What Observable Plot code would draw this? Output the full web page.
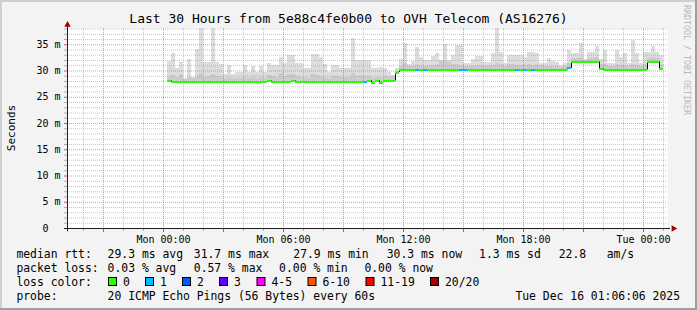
<!DOCTYPE html>
<html><head><meta charset="utf-8">
<script src="https://cdn.jsdelivr.net/npm/d3@7"></script>
<script src="https://cdn.jsdelivr.net/npm/@observablehq/plot@0.6"></script>
<style>
html,body{margin:0;padding:0;background:#f3f3f3;}
#chart{width:697px;height:310px;position:relative;overflow:hidden;background:#f3f3f3;}
#chart svg{display:block;}
#chart svg text{white-space:pre;}
</style></head><body><div id="chart"></div>
<script>
const titleText = "Last 30 Hours from 5e88c4fe0b00 to OVH Telecom (AS16276)";
const yTitle = "Seconds";
const watermark = "RRDTOOL / TOBI OETIKER";
const xTickHours = [0, 6, 12, 18, 24];
const xTickLabels = ["Mon 00:00", "Mon 06:00", "Mon 12:00", "Mon 18:00", "Tue 00:00"];
const yTickValues = [0, 5, 10, 15, 20, 25, 30, 35];
const yTickLabels = ["0\u00a0\u00a0", "5 m", "10 m", "15 m", "20 m", "25 m", "30 m", "35 m"];
// blocks of 12 minutes, first one starts Mon 00:12 (hours relative to Mon 00:00)
const firstBlockHour = 0.2;
const blockHours = 0.2;
const medianMs = [
  28.1,27.9,27.9,27.9,27.9,27.9,27.9,27.9,27.9,27.9,
  27.9,27.9,27.9,27.9,27.9,27.9,27.9,27.9,27.9,27.9,
  27.9,27.9,27.9,27.9,27.9,28.1,27.9,27.9,27.9,27.9,
  27.9,28.1,27.9,27.9,27.9,27.9,27.9,27.9,27.9,27.9,
  27.9,27.9,27.9,27.9,27.9,27.9,27.9,27.9,27.9,27.9,
  28.1,27.8,28.1,27.8,28.1,28.1,28.1,29.7,30.2,30.2,
  30.2,30.2,30.2,30.2,30.2,30.2,30.2,30.2,30.2,30.2,
  30.2,30.2,30.2,30.2,30.2,30.2,30.2,30.2,30.2,30.2,
  30.2,30.2,30.2,30.2,30.2,30.2,30.2,30.2,30.2,30.2,
  30.2,30.2,30.2,30.2,30.2,30.2,30.2,30.2,30.2,30.2,
  30.5,31.7,31.7,31.7,31.7,31.7,31.7,31.7,30.4,30.2,
  30.2,30.2,30.2,30.2,30.2,30.2,30.2,30.2,30.2,30.2,
  31.7,31.7,31.7,30.3
];
const smokeTopMs = [
  31.9,33.3,30.5,31.7,28.5,32.2,28.8,34.1,38.05,31.6,
  31.6,38.05,31.6,31.2,29.3,31.0,29.3,29.8,29.8,31.1,
  29.8,30.9,29.8,30.9,29.8,31.5,31.1,31.1,32.6,31.4,
  32.9,33.0,31.4,31.4,30.4,30.4,33.1,33.1,32.6,31.2,
  29.8,31.0,31.0,30.5,30.4,30.5,36.1,32.0,32.0,32.0,
  32.0,30.4,30.5,30.7,30.5,29.8,29.2,30.4,32.2,35.2,
  31.3,31.8,34.5,32.6,32.0,32.0,32.7,33.3,32.0,35.0,
  32.0,32.9,34.8,34.8,31.4,31.4,32.1,32.8,32.8,31.7,
  31.7,33.3,38.05,33.6,31.4,33.0,33.0,33.0,33.0,32.6,
  33.6,33.6,33.3,31.4,31.4,32.3,31.9,31.7,31.0,31.4,
  33.9,33.3,33.3,35.2,32.1,33.5,33.5,34.7,32.1,33.9,
  31.4,31.4,33.9,32.6,33.3,31.4,35.9,33.3,31.4,33.6,
  33.6,34.7,33.6,33.0
];
const smokeMidMs = [
  28.9,29.2,28.7,29.4,28.4,28.8,28.5,29.0,29.6,28.8,
  28.9,29.3,29.0,28.7,28.6,28.8,28.5,28.6,28.6,28.8,
  28.5,28.7,28.6,28.8,28.6,29.2,28.9,28.8,29.5,29.0,
  29.3,29.3,29.0,28.8,28.7,28.6,29.4,29.2,29.0,28.8,
  28.6,28.9,29.0,28.8,28.7,28.7,29.6,29.0,29.1,29.0,
  28.9,28.6,28.7,28.8,28.9,28.8,28.9,30.0,30.9,31.4,
  30.8,30.9,31.2,31.0,30.9,31.0,31.1,31.2,31.9,31.8,
  31.7,31.3,31.2,31.0,30.8,30.8,30.9,31.0,31.1,30.9,
  31.0,31.1,31.4,31.2,30.9,31.2,31.3,31.1,31.0,31.0,
  31.2,31.1,31.3,31.0,30.9,30.9,30.8,30.8,30.7,30.8,
  31.4,32.4,32.3,32.6,32.0,32.3,32.4,32.5,31.2,31.3,
  30.9,30.9,31.2,31.0,31.1,30.9,31.3,31.1,30.9,31.2,
  32.4,32.6,32.3,31.2
];
// lost pings per block (index into loss palette)
const lossIndex = [
  0,0,0,0,0,0,0,0,0,0,
  0,0,0,0,0,0,0,0,0,0,
  0,0,0,0,0,0,0,0,0,0,
  0,0,0,0,0,0,0,0,0,0,
  0,0,0,0,0,0,0,0,0,1,
  0,0,0,0,0,0,0,0,0,0,
  0,0,1,0,1,0,0,0,0,0,
  0,0,0,1,1,0,0,0,0,0,
  0,0,0,0,0,0,0,1,0,1,
  0,1,0,0,0,0,0,0,0,0,
  1,0,0,0,0,0,0,0,0,0,
  0,0,0,0,0,0,0,0,0,0,
  0,0,0,0
];
const lossLabels = ["0", "1", "2", "3", "4-5", "6-10", "11-19", "20/20"];
const lossColors = ["#26ff00", "#00b8ff", "#0059ff", "#5e00ff", "#ff00ff", "#ff5500", "#ff0000", "#a10000"];
const rttStats = ["29.3 ms avg", "31.7 ms max", "27.9 ms min", "30.3 ms now", "1.3 ms sd", "22.8   am/s"];
const lossStats = ["0.03 % avg", "0.57 % max", "0.00 % min", "0.00 % now"];
const probeText = "20 ICMP Echo Pings (56 Bytes) every 60s";
const stampText = "Tue Dec 16 01:06:06 2025";

const blocks = medianMs.map((m, k) => ({
  t0: firstBlockHour + k * blockHours,
  t1: firstBlockHour + (k + 1) * blockHours,
  med: m, hi: smokeTopMs[k], mid: smokeMidMs[k], loss: lossIndex[k],
  prev: k > 0 ? medianMs[k - 1] : m
}));
const steps = blocks.filter((d, k) => k > 0 && d.med !== d.prev);

const xMajor = d3.range(-3, 25, 3);
const xMinor = d3.range(-4, 26).filter(h => h % 3 !== 0);
const yMinor = d3.range(1, 39).filter(v => v % 5 !== 0);
const gridGray = "#8f8f8f", gridRed = "#de5050", axisColor = "#1e1e1e", arrowColor = "#a00000";
const font = "'DejaVu Sans Mono', monospace";
const yTop = 200 / 5.25;

const chart = Plot.plot({
  width: 697, height: 310,
  marginLeft: 67, marginRight: 30, marginTop: 28, marginBottom: 82,
  style: {background: "transparent", fontFamily: font, fontSize: "10px", color: "#000", overflow: "visible"},
  x: {domain: [-4.8, 25.2]},
  y: {domain: [0, yTop]},
  color: {type: "identity"},
  marks: [
    Plot.frame({fill: "#ffffff", stroke: "none"}),
    Plot.rectY(blocks, {x1: "t0", x2: "t1", y1: "med", y2: "hi", fill: "#dddddd", shapeRendering: "crispEdges"}),
    Plot.rectY(blocks, {x1: "t0", x2: "t1", y1: "med", y2: "mid", fill: "#cbcbcb", shapeRendering: "crispEdges"}),
    Plot.gridY(yMinor, {stroke: gridGray, strokeOpacity: 0.5, strokeDasharray: "1,1"}),
    Plot.gridX(xMinor, {stroke: gridGray, strokeOpacity: 0.5, strokeDasharray: "1,1"}),
    Plot.gridY(yTickValues.slice(1), {stroke: gridRed, strokeOpacity: 0.6, strokeDasharray: "1,1"}),
    Plot.gridX(xMajor, {stroke: gridRed, strokeOpacity: 0.6, strokeDasharray: "1,1"}),
    Plot.ruleX(steps, {x: "t0", y1: "prev", y2: "med", stroke: "#000", strokeWidth: 1}),
    Plot.ruleY(blocks, {x1: "t0", x2: "t1", y: "med", stroke: d => lossColors[d.loss], strokeWidth: 2, shapeRendering: "crispEdges"}),
    Plot.axisY(yMinor, {tickSize: 3, fill: "none", stroke: gridGray, strokeOpacity: 0.7, label: null}),
    Plot.axisY(yTickValues, {tickSize: 3, fill: "none", stroke: gridRed, label: null}),
    Plot.axisY(yTickValues, {tickSize: 0, tickPadding: 7, tickFormat: d => yTickLabels[yTickValues.indexOf(d)], label: null, fontSize: 10, fill: "#000"}),
    Plot.axisX(xMinor, {tickSize: 3, fill: "none", stroke: gridGray, strokeOpacity: 0.7, label: null}),
    Plot.axisX(xMajor, {tickSize: 4, fill: "none", stroke: gridRed, label: null}),
    Plot.axisX(xTickHours, {tickSize: 0, tickPadding: 7, tickFormat: d => xTickLabels[xTickHours.indexOf(d)], label: null, fontSize: 10, fill: "#000"}),
    Plot.ruleY([0], {x1: -4.95, x2: 25.35, stroke: axisColor}),
    Plot.ruleX([-4.8], {y1: -0.65, y2: yTop + 1.2, stroke: axisColor}),
    Plot.dot([{x: -4.8, y: yTop + 0.7}], {x: "x", y: "y", symbol: "triangle", r: 2.4, fill: arrowColor, stroke: "none"}),
    Plot.dot([{x: 25.5, y: 0}], {x: "x", y: "y", symbol: "triangle", r: 2.4, rotate: 90, fill: arrowColor, stroke: "none"})
  ]
});
document.getElementById("chart").appendChild(chart);

const svg = d3.select(chart);
const g = svg.append("g").attr("font-family", font).attr("fill", "#000").attr("text-anchor", "start");
// frame shading
g.append("rect").attr("x", 0).attr("y", 0).attr("width", 697).attr("height", 2).attr("fill", "#cfcfcf");
g.append("rect").attr("x", 0).attr("y", 0).attr("width", 2).attr("height", 310).attr("fill", "#cfcfcf");
g.append("rect").attr("x", 695).attr("y", 0).attr("width", 2).attr("height", 310).attr("fill", "#9e9e9e");
g.append("rect").attr("x", 0).attr("y", 308).attr("width", 697).attr("height", 2).attr("fill", "#9e9e9e");

g.append("text").attr("x", 348.5).attr("y", 23).attr("text-anchor", "middle").attr("font-size", 13).text(titleText);
g.append("text").attr("transform", "translate(14.5,128) rotate(-90)").attr("text-anchor", "middle").attr("font-size", 11).text(yTitle);
g.append("text").attr("transform", "translate(684,5) rotate(90)").attr("text-anchor", "start").attr("font-size", 8.3).attr("fill", "#b8b8b8").text(watermark);

const lf = 11.4;
const rowY = [258, 272, 286, 300];
const statX = [107.6, 193.8, 293.3, 386.7, 479.1, 558.7];
const lossX = [107.6, 193.8, 279.1, 364.4];
const addText = (x, y, s) => g.append("text").attr("x", x).attr("y", y).attr("text-anchor", "start").attr("font-size", lf).text(s);
addText(16.4, rowY[0], "median rtt:");
rttStats.forEach((s, i) => addText(statX[i], rowY[0], s));
addText(16.4, rowY[1], "packet loss:");
lossStats.forEach((s, i) => addText(lossX[i], rowY[1], s));
addText(16.4, rowY[2], "loss color:");
const boxX = [108, 145, 182, 219, 256.5, 307.5, 365.5, 430];
lossLabels.forEach((s, i) => {
  g.append("rect").attr("x", boxX[i] + 0.5).attr("y", 277.5).attr("width", 8).attr("height", 8)
    .attr("fill", lossColors[i]).attr("stroke", "#000").attr("stroke-width", 1);
  addText(boxX[i] + 15, rowY[2], s);
});
addText(16.4, rowY[3], "probe:");
addText(107.6, rowY[3], probeText);
g.append("text").attr("x", 680).attr("y", rowY[3]).attr("text-anchor", "end").attr("font-size", lf).text(stampText);
</script></body></html>
